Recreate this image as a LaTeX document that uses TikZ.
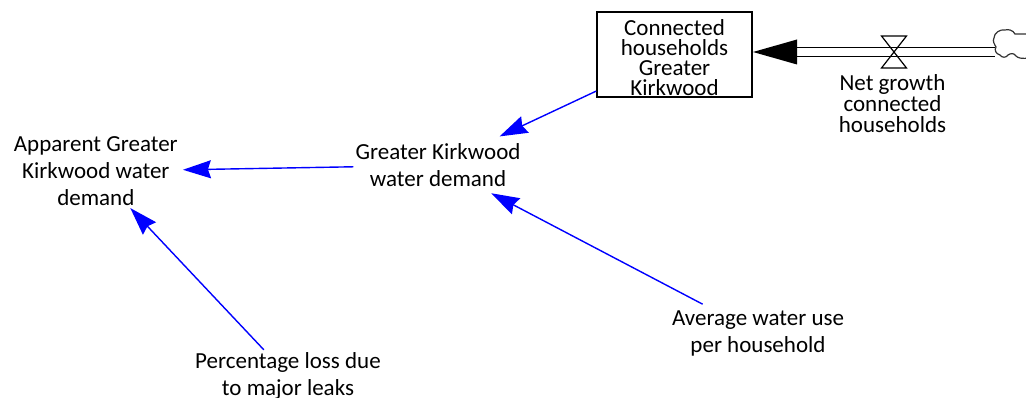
\documentclass[tikz,border=0pt]{standalone}
\usepackage{fontspec}
\setmainfont{Carlito}
\usetikzlibrary{arrows.meta}
\begin{document}
\begin{tikzpicture}[x=1pt,y=-1pt,
  lbl/.style={align=center, inner sep=2pt, anchor=base, font=\fontsize{23}{27}\selectfont},
  flowlbl/.style={align=center, inner sep=2pt, anchor=base, font=\fontsize{23}{21}\selectfont},
  stockbox/.style={draw, line width=1.5pt, minimum width=155pt, minimum height=85pt,
    align=center, inner sep=0pt, font=\fontsize{23}{20}\selectfont},
  link/.style={draw=blue, line width=1.4pt, -{Stealth[length=28pt,width=18pt,inset=3pt]}},
  pipe/.style={line width=1.3pt, double=white, double distance=7.2pt},
  valveline/.style={line width=1.2pt},
  cloudline/.style={line width=1.2pt, draw=black!80},
]
\useasboundingbox (0,0) rectangle (1026,398);

% stock and flow
\node[stockbox] (stock) at (674.5,54.5) {\rule{0pt}{22.5pt}Connected\\households\\Greater\\Kirkwood};
\coordinate (tip) at (753,52);
\coordinate (headbase) at (797,52);
\coordinate (cloudend) at (995,52);
\coordinate (valve) at (894,52);
\draw[pipe] (headbase) -- (cloudend);
\fill (tip) -- ([shift={(0,-12.5)}]headbase) -- ([shift={(0,12.5)}]headbase) -- cycle;
\draw[valveline] ([shift={(-12.5,-16)}]valve) -- ([shift={(12.5,-16)}]valve)
  -- ([shift={(-12.5,16)}]valve) -- ([shift={(12.5,16)}]valve) -- cycle;
\draw[cloudline] (1030,34) -- (1015,34) .. controls (1013,30) and (1008,29) .. (1005,30)
  .. controls (1000,29) and (994,33) .. (994,38) .. controls (992,41) and (995,45) .. (996,47)
  .. controls (994,50) and (996,54) .. (1000,55) .. controls (1002,58) and (1006,58) .. (1008,55)
  .. controls (1011,53) and (1014,53) .. (1016,56) .. controls (1018,58) and (1021,59) .. (1030,58);
\node[flowlbl] (netgrowth) at (892.5,132.7) {Net growth\\connected\\households};

% variables
\node[lbl] (gkwd) at (438,186.7) {Greater Kirkwood\\water demand};
\node[lbl] (app) at (95.8,205.7) {Apparent Greater\\Kirkwood water\\demand};
\node[lbl] (pct) at (288,395) {Percentage loss due\\to major leaks};
\node[lbl] (avg) at (758,352.3) {Average water use\\per household};

% links
\draw[link, shorten >=12pt] (stock) -- (gkwd);
\draw[link, shorten >=3pt] (gkwd) -- (app);
\draw[link, shorten <=9pt, shorten >=9pt] (avg) -- (gkwd);
\draw[link] (pct) -- (app);
\end{tikzpicture}
\end{document}
